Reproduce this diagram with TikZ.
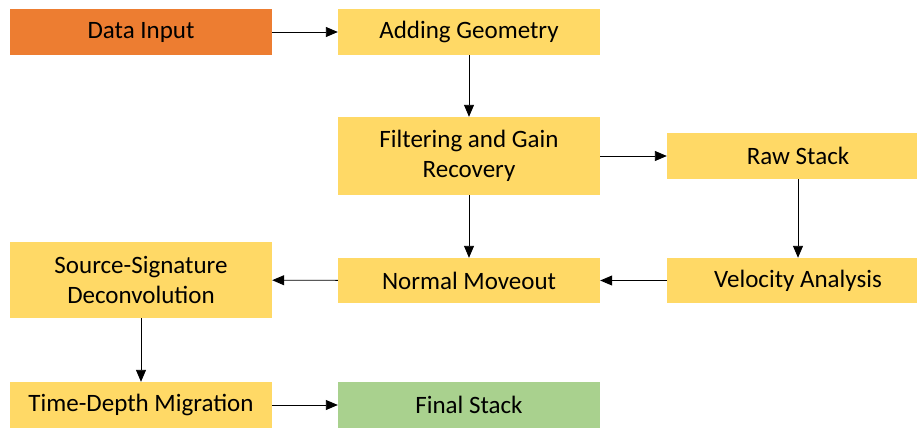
\documentclass[tikz,border=0pt]{standalone}
\usepackage{fontspec}
\setmainfont{Carlito}
\usetikzlibrary{arrows.meta}
\definecolor{boxorange}{HTML}{ED7D31}
\definecolor{boxyellow}{HTML}{FFD966}
\definecolor{boxgreen}{HTML}{A9D18E}
\tikzset{
  procbox/.style={fill=boxyellow, draw=none, minimum width=262pt, minimum height=46pt, inner sep=0pt, align=center, font=\fontsize{25}{30}\selectfont},
  conn/.style={line width=0.9pt, -{Triangle[length=12pt,width=10pt]}}
}
\begin{document}
\begin{tikzpicture}[x=1pt,y=-1pt]
\useasboundingbox (0,0) rectangle (917,428);
\node[procbox, fill=boxorange] (din) at (141,32) {Data Input};
\node[procbox] (geo) at (469,32) {Adding Geometry};
\node[procbox, minimum height=78pt] (filt) at (469,156) {Filtering and Gain\\Recovery};
\node[procbox] (raw) at (798,156) {Raw Stack};
\node[procbox, minimum height=45pt] (vel) at (798,280.5) {Velocity Analysis};
\node[procbox, minimum height=45pt] (nmo) at (469,280.5) {Normal Moveout};
\node[procbox, minimum height=76pt] (ssd) at (141,280) {Source-Signature\\Deconvolution};
\node[procbox] (tdm) at (141,405) {Time-Depth Migration};
\node[procbox, fill=boxgreen] (fin) at (469,405) {Final Stack};
\draw[conn] (din) -- (geo);
\draw[conn] (geo) -- (filt);
\draw[conn] (filt) -- (raw);
\draw[conn] (filt) -- (nmo);
\draw[conn] (raw) -- (vel);
\draw[conn] (vel) -- (nmo);
\draw[conn] (nmo) -- (ssd);
\draw[conn] (ssd) -- (tdm);
\draw[conn] (tdm) -- (fin);
\end{tikzpicture}
\end{document}
